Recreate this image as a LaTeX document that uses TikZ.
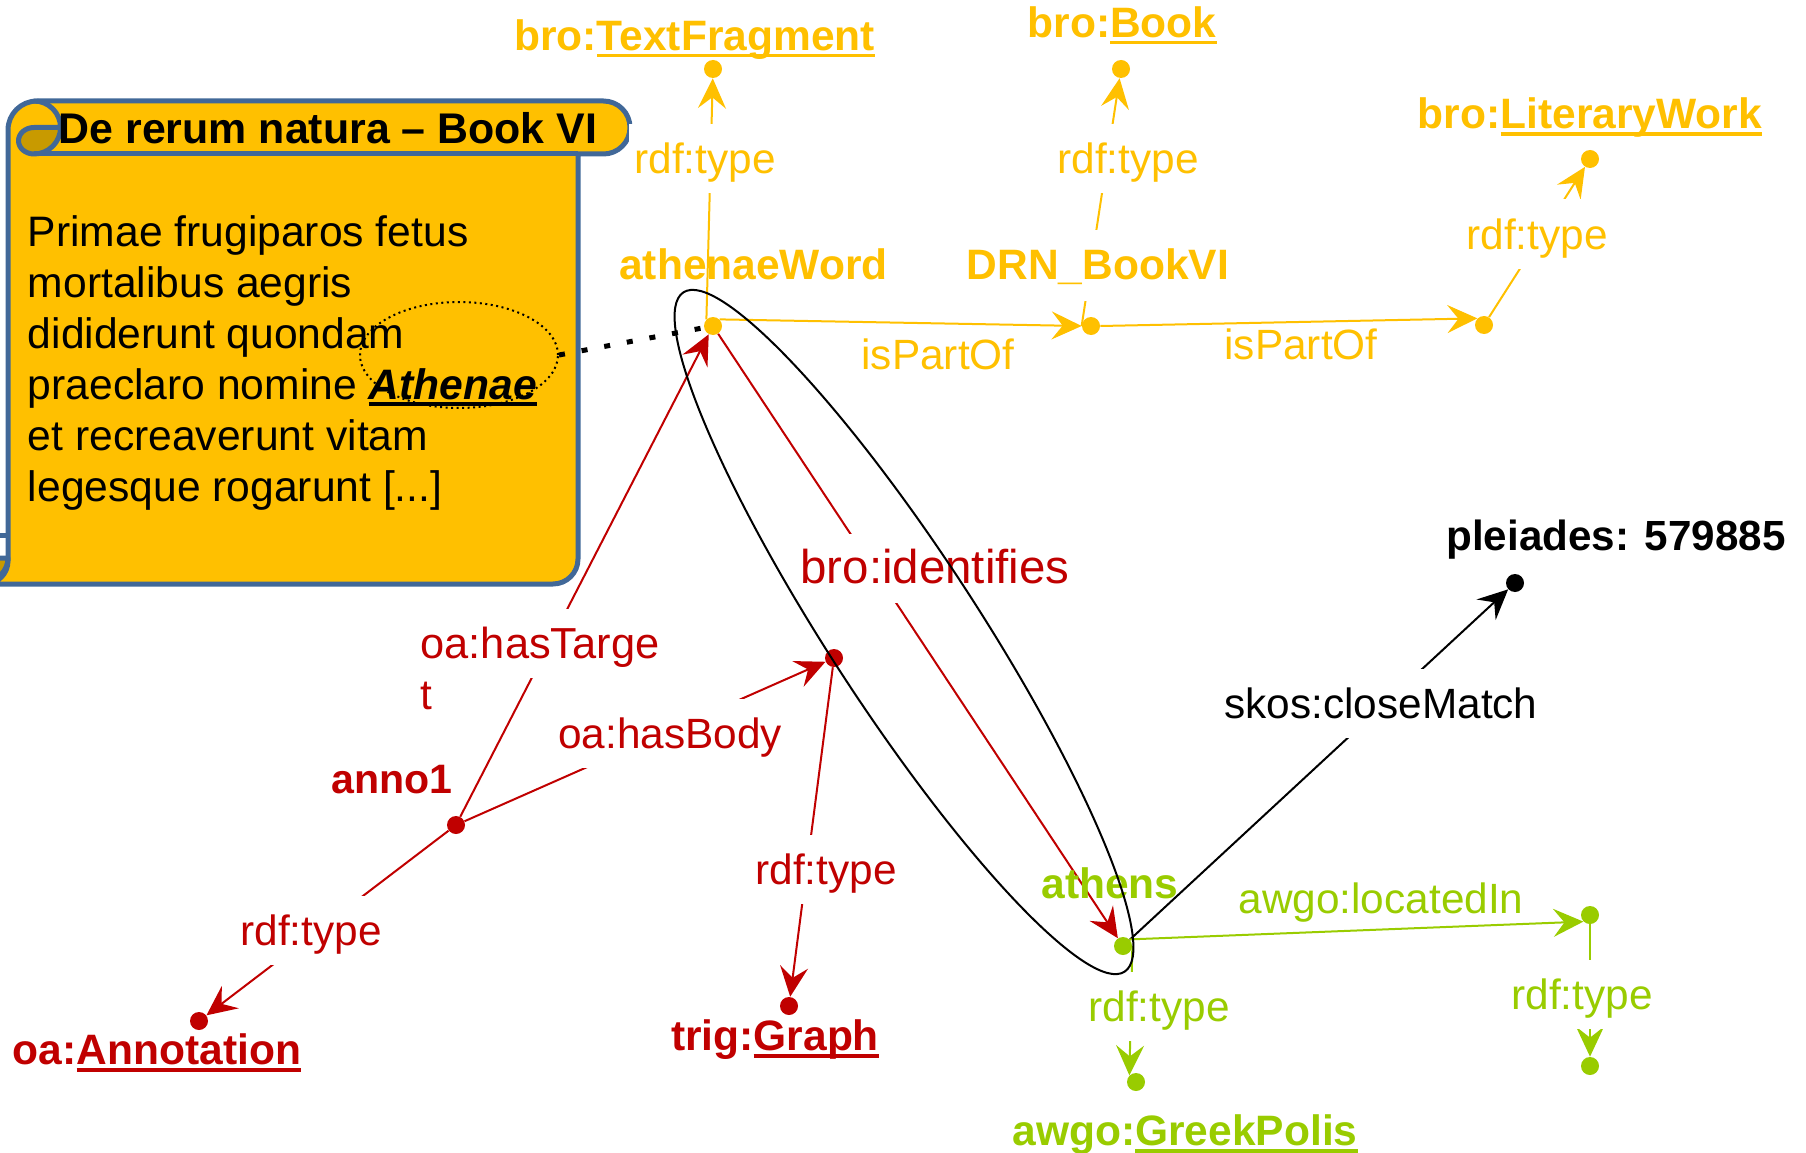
\documentclass[tikz,border=0pt]{standalone}
\usepackage{fontspec}
\setmainfont{Liberation Sans}
\newsavebox{\caixaText}
\newcommand{\subratllat}[1]{\sbox{\caixaText}{#1}\rlap{\usebox{\caixaText}}\rule[-3.9pt]{\wd\caixaText}{2pt}}
\usetikzlibrary{shapes.geometric, arrows.meta}
\definecolor{grocBro}{RGB}{255,192,0}
\definecolor{vermellOa}{RGB}{192,0,0}
\definecolor{verdAwgo}{RGB}{153,204,0}
\definecolor{blauVora}{RGB}{65,104,152}
\definecolor{grocFosc}{RGB}{200,154,0}
\tikzstyle{puntNode} = [circle, fill, inner sep=0, minimum size=.36cm]
\tikzstyle{nomNode} = [font=\fontsize{24.2}{29}\selectfont\bfseries, inner sep=0]
\tikzstyle{nomTapa} = [nomNode, fill=white, inner ysep=.28cm, inner xsep=.1cm, text height=.72cm, text depth=.14cm]
\tikzstyle{etiqueta} = [font=\fontsize{24.1}{29}\selectfont, inner sep=0]
\tikzstyle{etiquetaTapa} = [etiqueta, fill=white, inner ysep=.26cm, inner xsep=.1cm, text height=.73cm, text depth=.13cm]
\tikzstyle{arrow} = [line width=.04cm, -{Stealth[length=.6cm, width=.56cm, inset=.22cm]}]
\tikzstyle{voraPergami} = [line width=.1cm, draw=blauVora, line join=round]
\tikzstyle{textPergami} = [font=\fontsize{24.25}{29}\selectfont, align=left, inner sep=0]

\begin{document}
\begin{tikzpicture}[node distance=2cm]
	\useasboundingbox (0,0) rectangle (36.12,-23.04);

	% Pergami
	\draw [voraPergami, fill=grocBro] (.16,-2.6) arc[start angle=180, end angle=90, radius=.58] -- (12.07,-2.02) arc[start angle=90, end angle=-90, radius=.53] -- (11.56,-3.08) -- (11.56,-11.18) arc[start angle=0, end angle=-90, radius=.5] -- (-.3,-11.68) arc[start angle=-90, end angle=0, radius=.46] -- cycle;
	\draw [voraPergami, fill=grocFosc] (.68,-2.55) -- (1.21,-2.55) arc[start angle=0, end angle=-90, radius=.53] arc[start angle=270, end angle=90, x radius=.31, y radius=.265] -- cycle;
	\draw [voraPergami] (.68,-2.02) arc[start angle=90, end angle=0, radius=.53];
	\draw [voraPergami] (.68,-3.08) -- (11.56,-3.08);
	\draw [voraPergami] (-.3,-10.7) -- (.16,-10.7);
	\draw [voraPergami, fill=grocFosc] (-.3,-11.16) -- (.16,-11.16) arc[start angle=0, end angle=-90, radius=.46] -- cycle;

	\node (titolPergami) [textPergami, font=\fontsize{24.4}{29}\selectfont\bfseries] at (6.56,-2.56) {De rerum natura -- Book VI};
	\node (textLlati) [textPergami, anchor=north west] at (.55,-4.3) {Primae frugiparos fetus\\mortalibus aegris\\dididerunt quondam\\praeclaro nomine \subratllat{\textbf{\textit{Athenae}}}\\et recreaverunt vitam\\legesque rogarunt [...]};
	\node (marcaAthenae) [ellipse, draw, dotted, line width=.04cm, inner sep=0, minimum width=3.96cm, minimum height=2.12cm] at (9.18,-7.1) {};

	% Nodes (punts)
	\node (puntWord) [puntNode, grocBro] at (14.26,-6.52) {};
	\node (puntFragment) [puntNode, grocBro, above of=puntWord, yshift=3.14cm] {};
	\node (puntDrn) [puntNode, grocBro, right of=puntWord, xshift=5.56cm] {};
	\node (puntBook) [puntNode, grocBro, above of=puntDrn, xshift=.6cm, yshift=3.14cm] {};
	\node (puntObra) [puntNode, grocBro, right of=puntDrn, xshift=5.86cm, yshift=.02cm] {};
	\node (puntLiterary) [puntNode, grocBro, above of=puntObra, xshift=2.12cm, yshift=1.32cm] {};
	\node (puntBody) [puntNode, vermellOa, below of=puntWord, xshift=2.42cm, yshift=-4.64cm] {};
	\node (puntAnno) [puntNode, vermellOa, left of=puntBody, xshift=-5.56cm, yshift=-3.34cm] {};
	\node (puntAnnotation) [puntNode, vermellOa, below of=puntAnno, xshift=-5.14cm, yshift=-1.92cm] {};
	\node (puntGraph) [puntNode, vermellOa, below of=puntBody, xshift=-.9cm, yshift=-4.96cm] {};
	\node (puntAthens) [puntNode, verdAwgo, below of=puntBody, xshift=5.78cm, yshift=-3.76cm] {};
	\node (puntLocated) [puntNode, verdAwgo, right of=puntAthens, xshift=7.34cm, yshift=.62cm] {};
	\node (puntPolis) [puntNode, verdAwgo, below of=puntAthens, xshift=.26cm, yshift=-.72cm] {};
	\node (puntFinal) [puntNode, verdAwgo, below of=puntLocated, yshift=-1.02cm] {};
	\node (puntPleiades) [puntNode, black, above of=puntAthens, xshift=7.84cm, yshift=5.26cm] {};

	% Fletxes entre els nodes
	\draw [line width=.1cm, dash pattern=on .12cm off .34cm] (marcaAthenae.east) -- (puntWord);
	\draw [arrow, grocBro] (puntWord.north west) -- (puntFragment);
	\draw [arrow, grocBro] (puntWord.north east) -- (puntDrn.west);
	\draw [arrow, grocBro] (puntDrn.west) -- (puntBook);
	\draw [arrow, grocBro] (puntDrn.east) -- (puntObra.north west);
	\draw [arrow, grocBro] (puntObra) -- (puntLiterary);
	\draw [arrow, vermellOa] (puntAnno) -- (puntWord);
	\draw [arrow, vermellOa] (puntAnno) -- (puntBody);
	\draw [arrow, vermellOa] (puntAnno) -- (puntAnnotation);
	\draw [arrow, vermellOa] (puntBody) -- (puntGraph);
	\draw [arrow, vermellOa] (puntWord) -- (puntAthens);
	\draw [arrow, black] (puntAthens) -- (puntPleiades);
	\draw [arrow, verdAwgo] (puntAthens.north east) -- (puntLocated.south west);
	\draw [arrow, verdAwgo] (puntAthens.east) -- (puntPolis.north west);
	\draw [arrow, verdAwgo] (puntLocated) -- (puntFinal);

	% Noms dels nodes
	\node (nomFragment) [nomNode, text=grocBro, above of=puntFragment, xshift=-.37cm, yshift=-1.41cm] {bro:\subratllat{TextFragment}};
	\node (nomBook) [nomNode, text=grocBro, above of=puntBook, xshift=.02cm, yshift=-1.13cm] {bro:\subratllat{Book}};
	\node (nomLiterary) [nomNode, text=grocBro, above of=puntLiterary, yshift=-1.18cm] {bro:\subratllat{LiteraryWork}};
	\node (nomWord) [nomNode, text=grocBro, above of=puntWord, xshift=.81cm, yshift=-.76cm] {athenaeWord};
	\node (nomDrn) [nomTapa, text=grocBro, above of=puntDrn, xshift=.14cm, yshift=-.78cm] {DRN\_BookVI};
	\node (nomAnno) [nomNode, font=\fontsize{23.4}{29}\selectfont\bfseries, text=vermellOa, left of=puntAnno, xshift=.72cm, yshift=.9cm] {anno1};
	\node (nomAnnotation) [nomNode, text=vermellOa, below of=puntAnnotation, xshift=-.84cm, yshift=1.36cm] {oa:\subratllat{Annotation}};
	\node (nomGraph) [nomNode, text=vermellOa, below of=puntGraph, xshift=-.28cm, yshift=1.32cm] {trig:\subratllat{Graph}};
	\node (nomAthens) [nomNode, text=verdAwgo, above of=puntAthens, xshift=-.26cm, yshift=-.74cm] {athens};
	\node (nomPolis) [nomNode, text=verdAwgo, below of=puntPolis, xshift=.98cm, yshift=.94cm] {awgo:\subratllat{GreekPolis}};
	\node (nomPleiades) [nomNode, font=\fontsize{24}{29}\selectfont\bfseries, text=black, above of=puntPleiades, xshift=2.02cm, yshift=-1.14cm] {pleiades: 579885};

	% Etiquetes de les fletxes
	\node (tipusFragment) [etiquetaTapa, text=grocBro, right of=puntFragment, xshift=-2.16cm, yshift=-1.8cm] {rdf:type};
	\node (tipusBook) [etiquetaTapa, text=grocBro, right of=puntBook, xshift=-1.86cm, yshift=-1.8cm] {rdf:type};
	\node (tipusLiterary) [etiquetaTapa, text=grocBro, left of=puntLiterary, xshift=.94cm, yshift=-1.5cm] {rdf:type};
	\node (partDrn) [etiqueta, text=grocBro, right of=puntWord, xshift=2.5cm, yshift=-.56cm] {isPartOf};
	\node (partObra) [etiqueta, text=grocBro, right of=puntDrn, xshift=2.2cm, yshift=-.36cm] {isPartOf};
	\node (etiquetaIdentifies) [etiquetaTapa, font=\fontsize{27}{29}\selectfont, text=vermellOa, below of=puntBody, xshift=2.02cm, yshift=3.8cm] {bro:identifies};
	\node (etiquetaTarget) [etiquetaTapa, font=\fontsize{24.7}{29}\selectfont, text=vermellOa, left of=puntBody, xshift=-3.88cm, yshift=.3cm] {oa:hasTarge};
	\node (etiquetaTarget2) [etiqueta, text=vermellOa, anchor=west, below of=etiquetaTarget, xshift=-2.28cm, yshift=.95cm] {t};
	\node (etiquetaBody) [etiquetaTapa, text=vermellOa, left of=puntBody, xshift=-1.28cm, yshift=-1.5cm] {oa:hasBody};
	\node (tipusAnnotation) [etiquetaTapa, text=vermellOa, below of=puntAnno, xshift=-2.9cm, yshift=-.1cm] {rdf:type};
	\node (tipusGraph) [etiquetaTapa, text=vermellOa, below of=puntBody, xshift=-.16cm, yshift=-2.22cm] {rdf:type};
	\node (etiquetaMatch) [etiquetaTapa, text=black, left of=puntPleiades, xshift=-.68cm, yshift=-2.4cm] {skos:closeMatch};
	\node (etiquetaLocated) [etiqueta, text=verdAwgo, right of=puntAthens, xshift=3.16cm, yshift=.86cm] {awgo:locatedIn};
	\node (tipusPolis) [etiquetaTapa, text=verdAwgo, below of=puntAthens, xshift=.72cm, yshift=.8cm] {rdf:type};
	\node (tipusFinal) [etiquetaTapa, text=verdAwgo, below of=puntLocated, xshift=-.16cm, yshift=.42cm] {rdf:type};

	% Conjunt marcat
	\node (conjunt) [ellipse, draw=black, line width=.04cm, inner sep=0, minimum width=16.2cm, minimum height=3cm, right of=puntBody, xshift=-.6cm, yshift=.52cm, rotate=-57] {};
\end{tikzpicture}
\end{document}
